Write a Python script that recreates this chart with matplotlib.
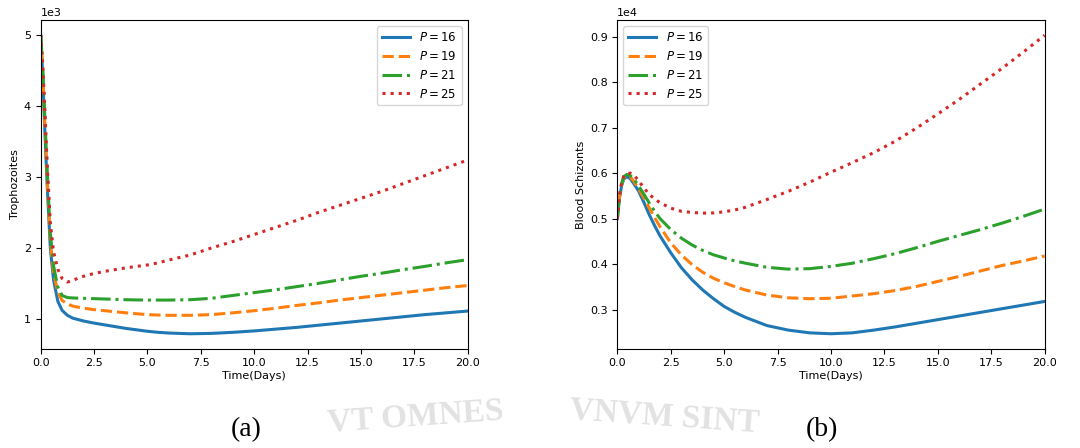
import matplotlib
matplotlib.use('Agg')
import matplotlib.pyplot as plt

# time grid (days)
t = [0, 0.1, 0.2, 0.3, 0.45, 0.6, 0.8, 1.0, 1.25, 1.5, 1.75, 2.0, 2.5, 3.0, 3.5, 4.0, 4.5, 5.0,
     5.5, 6.0, 7.0, 8.0, 9.0, 10, 11, 12, 13, 14, 15, 16, 17, 18, 19, 20]

labels = ['$P = 16$', '$P = 19$', '$P = 21$', '$P = 25$']
colors = ['#1f77b4', '#ff7f0e', '#2ca02c', '#d62728']
styles = ['-', '--', '-.', ':']

# Trophozoites (a)
tro_16 = [5000, 4400, 3600, 2900, 2000, 1550, 1250, 1120, 1050, 1010, 990, 970, 940, 915, 890, 865, 845, 825,
          810, 800, 790, 795, 810, 830, 855, 880, 910, 940, 970, 1000, 1030, 1060, 1085, 1110]
tro_19 = [5000, 4450, 3700, 3000, 2100, 1650, 1380, 1260, 1210, 1180, 1165, 1150, 1130, 1115, 1100, 1085, 1072, 1060,
          1054, 1050, 1050, 1060, 1085, 1115, 1150, 1190, 1225, 1265, 1300, 1335, 1370, 1405, 1440, 1470]
tro_21 = [5000, 4500, 3800, 3100, 2200, 1750, 1450, 1330, 1300, 1295, 1292, 1290, 1285, 1280, 1275, 1270, 1267, 1265,
          1265, 1265, 1270, 1290, 1330, 1370, 1410, 1455, 1500, 1550, 1600, 1645, 1695, 1740, 1790, 1835]
tro_25 = [5000, 4550, 3900, 3200, 2350, 1950, 1700, 1570, 1520, 1540, 1575, 1600, 1640, 1670, 1695, 1720, 1740, 1760,
          1790, 1830, 1900, 2000, 2090, 2190, 2290, 2390, 2500, 2600, 2700, 2800, 2910, 3020, 3130, 3240]

# Blood Schizonts (b)
bs_16 = [5000, 5450, 5720, 5870, 5920, 5880, 5750, 5600, 5350, 5080, 4840, 4620, 4250, 3920, 3655, 3430, 3240, 3070,
         2940, 2830, 2650, 2550, 2490, 2470, 2490, 2550, 2620, 2700, 2780, 2860, 2940, 3020, 3100, 3180]
bs_19 = [5000, 5480, 5750, 5900, 5950, 5920, 5800, 5650, 5450, 5230, 5020, 4820, 4470, 4200, 3990, 3820, 3690, 3590,
         3505, 3430, 3320, 3260, 3240, 3250, 3300, 3350, 3420, 3510, 3620, 3730, 3850, 3970, 4070, 4180]
bs_21 = [5000, 5500, 5770, 5920, 5970, 5950, 5850, 5720, 5530, 5340, 5160, 5000, 4760, 4570, 4420, 4300, 4205, 4135,
         4070, 4020, 3930, 3890, 3900, 3950, 4020, 4120, 4230, 4360, 4500, 4630, 4760, 4900, 5050, 5210]
bs_25 = [5000, 5500, 5780, 5930, 5990, 6000, 5940, 5830, 5670, 5530, 5430, 5350, 5230, 5160, 5135, 5120, 5125, 5150,
         5190, 5250, 5420, 5600, 5800, 6020, 6230, 6450, 6700, 6990, 7300, 7620, 7960, 8300, 8660, 9030]

fig = plt.figure(figsize=(10.8, 4.48), dpi=100)
ax1 = fig.add_axes([0.0377, 0.2217, 0.3953, 0.733])
ax2 = fig.add_axes([0.5716, 0.2217, 0.3957, 0.733])

for ax, series, ylab, sc, loc in [
        (ax1, [tro_16, tro_19, tro_21, tro_25], 'Trophozoites', 3, 'upper right'),
        (ax2, [bs_16, bs_19, bs_21, bs_25], 'Blood Schizonts', 4, 'upper left')]:
    for y, lab, c, ls in zip(series, labels, colors, styles):
        ax.plot(t, y, ls, color=c, lw=2.2, label=lab)
    ax.set_xlim(0, 20)
    ax.set_xticks([0, 2.5, 5, 7.5, 10, 12.5, 15, 17.5, 20])
    ax.ticklabel_format(axis='y', style='sci', scilimits=(sc, sc))
    ax.yaxis.get_offset_text().set_fontsize(8)
    ax.tick_params(labelsize=8)
    ax.set_xlabel('Time(Days)', fontsize=8, labelpad=2)
    ax.set_ylabel(ylab, fontsize=8, labelpad=3)
    ax.legend(loc=loc, fontsize=8.5, handlelength=2.4)

fig.text(0.228, 0.04, '(a)', fontsize=20, family='Liberation Serif', ha='center', va='center')
fig.text(0.761, 0.04, '(b)', fontsize=20, family='Liberation Serif', ha='center', va='center')

# faint watermark at the bottom
fig.text(0.385, 0.07, 'VT OMNES', fontsize=24, family='Liberation Serif', weight='bold',
         color='#e2e2e2', ha='center', va='center', rotation=4, zorder=-1)
fig.text(0.615, 0.07, 'VNVM SINT', fontsize=24, family='Liberation Serif', weight='bold',
         color='#e2e2e2', ha='center', va='center', rotation=-4, zorder=-1)

fig.savefig('out.png', dpi=100)
